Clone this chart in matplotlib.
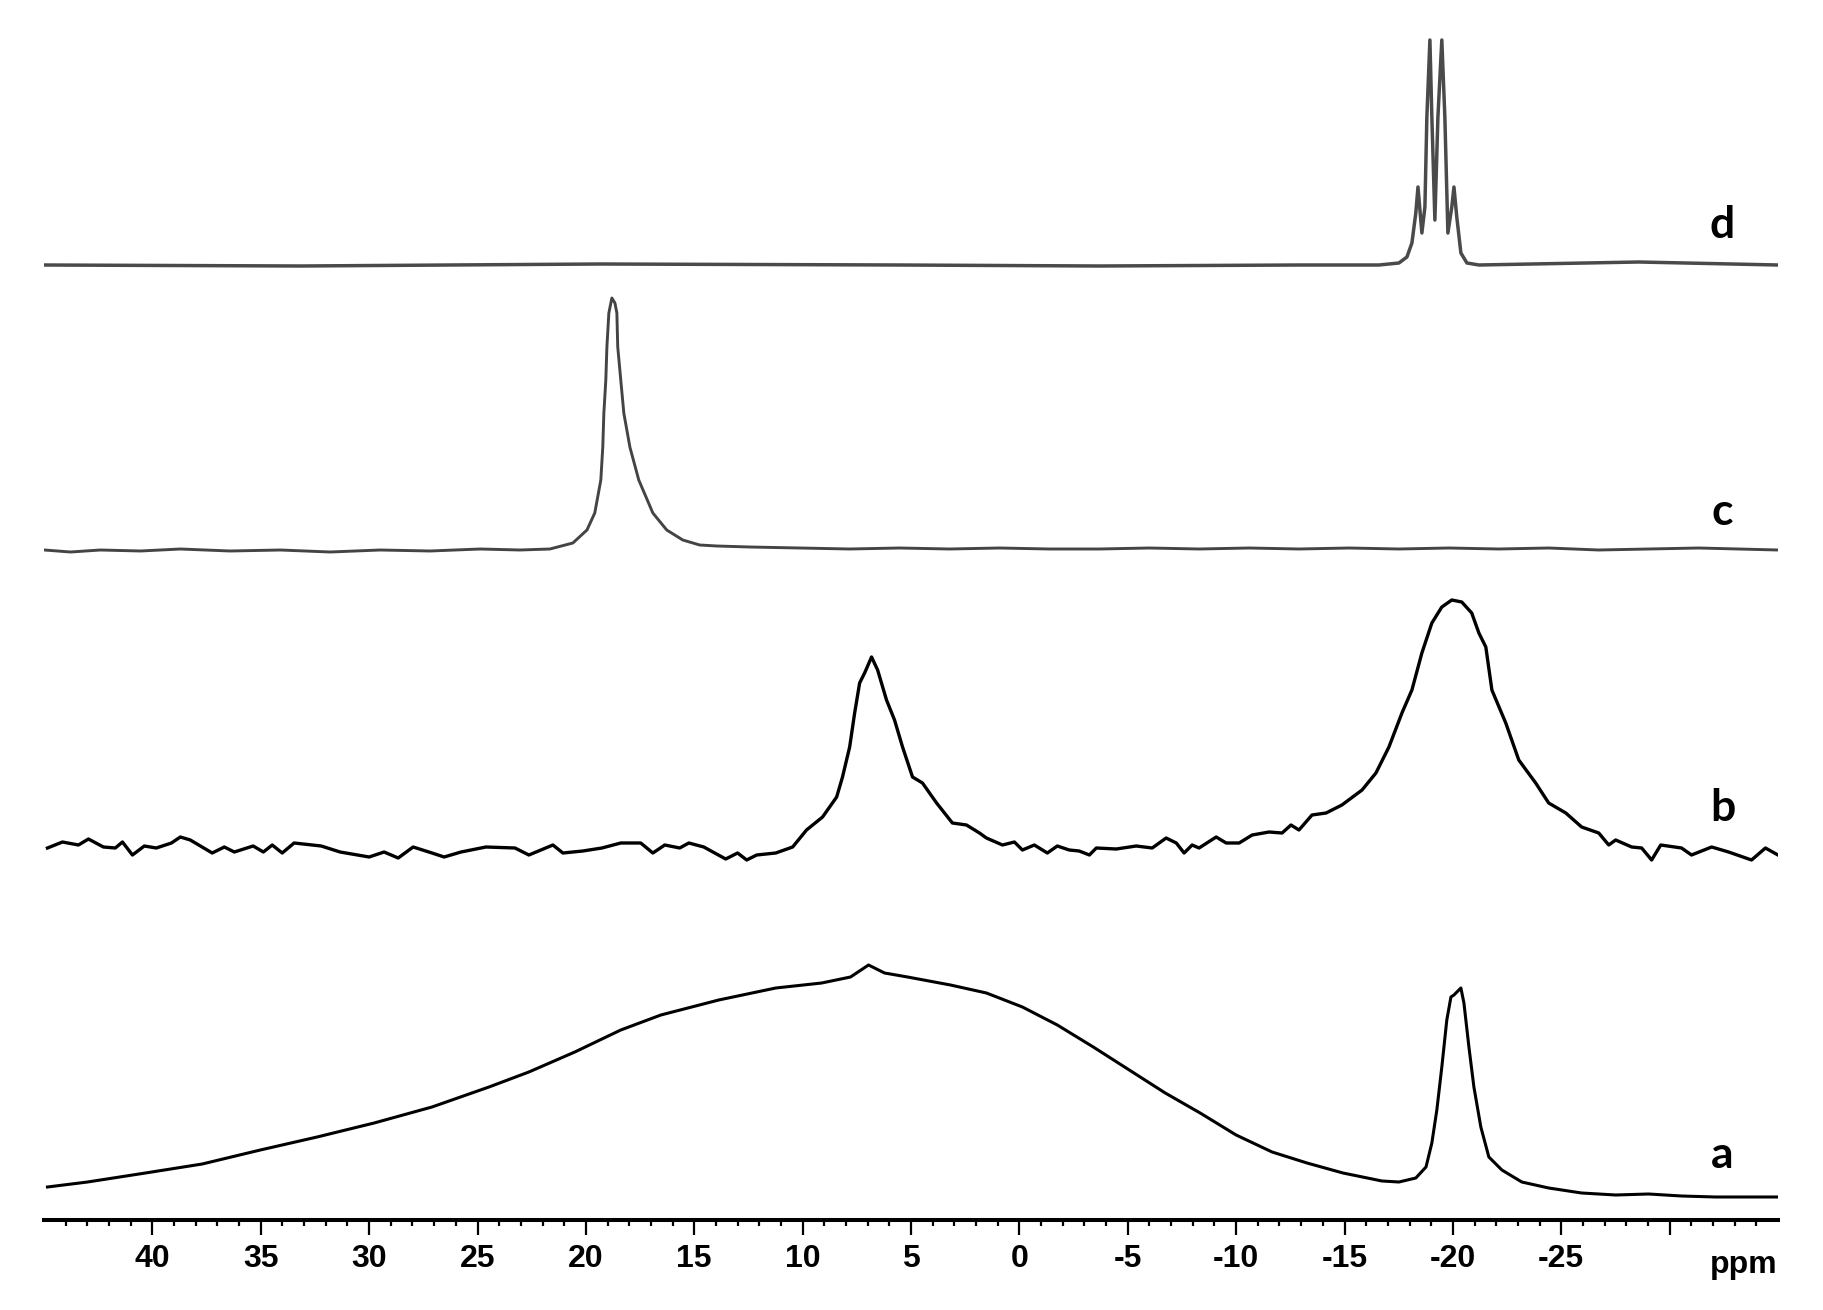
import matplotlib.pyplot as plt
import numpy as np

# ppm / intensity (intensity above each baseline)
ppm_a = [44.84, 42.99, 40.32, 37.70, 35.02, 32.40, 29.77, 27.10, 24.47, 22.63,
         20.51, 18.39, 16.54, 13.87, 11.24, 9.12, 7.79, 6.96, 6.22, 5.16,
         3.18, 1.52, -0.14, -1.75, -3.41, -5.07, -6.73, -8.34, -10.00, -11.66,
         -13.27, -14.93, -16.73, -17.51, -18.29, -18.76, -19.03, -19.26, -19.49, -19.72,
         -19.91, -20.05, -20.14, -20.28, -20.37, -20.51, -20.74, -20.97, -21.29, -21.66,
         -22.26, -23.18, -24.42, -25.94, -27.51, -29.03, -30.55, -32.12, -33.64, -35.00]
int_a = [10, 15, 24, 33, 47, 60, 74, 90, 110, 125,
         145, 167, 182, 197, 209, 214, 220, 232, 224, 220,
         212, 204, 190, 172, 150, 127, 104, 84, 62, 45,
         34, 24, 16, 15, 19, 30, 54, 87, 130, 177,
         200, 202, 204, 207, 209, 194, 150, 110, 70, 40,
         27, 15, 9, 4, 2, 3, 1, 0, 0, 0]

ppm_b = [44.84, 44.15, 43.41, 42.95, 42.26, 41.71, 41.38, 40.92, 40.37, 39.82,
         39.12, 38.71, 38.25, 37.24, 36.68, 36.22, 35.35, 34.88, 34.47, 34.01,
         33.46, 32.21, 31.34, 30.00, 29.31, 28.66, 27.97, 27.10, 26.54, 25.76,
         24.61, 23.27, 22.63, 21.52, 21.06, 20.14, 19.26, 18.39, 17.47, 16.91,
         16.36, 15.67, 15.25, 14.56, 13.55, 13.00, 12.58, 12.12, 11.24, 10.46,
         9.82, 9.08, 8.43, 8.16, 7.83, 7.60, 7.37, 7.14, 6.82, 6.54,
         6.13, 5.76, 5.39, 4.93, 4.47, 3.82, 3.09, 2.44, 1.84, 1.52,
         0.78, 0.23, -0.14, -0.69, -1.29, -1.75, -2.30, -2.76, -3.23, -3.55,
         -4.47, -5.39, -6.13, -6.77, -7.24, -7.60, -7.97, -8.29, -9.08, -9.54,
         -10.14, -10.74, -11.52, -12.12, -12.53, -12.90, -13.50, -14.15, -14.88, -15.81,
         -16.45, -17.05, -17.65, -18.11, -18.57, -19.03, -19.49, -19.95, -20.41, -20.87,
         -21.20, -21.52, -21.80, -22.44, -23.04, -23.82, -24.42, -25.21, -25.94, -26.73,
         -27.19, -27.51, -28.25, -28.71, -29.17, -29.59, -30.55, -31.01, -31.94, -32.72,
         -33.78, -34.42, -35.00]
int_b = [1, 7, 4, 10, 2, 1, 7, -6, 3, 1,
         6, 12, 9, -4, 2, -3, 3, -3, 4, -4,
         6, 3, -3, -8, -3, -9, 2, -4, -8, -3,
         2, 1, -6, 4, -4, -2, 1, 6, 6, -4,
         4, 1, 6, 2, -10, -4, -11, -6, -4, 2,
         19, 32, 52, 72, 102, 136, 166, 176, 192, 179,
         149, 129, 102, 72, 66, 46, 26, 24, 16, 11,
         4, 7, -1, 4, -4, 3, -1, -2, -6, 1,
         0, 3, 1, 11, 6, -4, 4, 1, 12, 6,
         6, 14, 17, 16, 24, 19, 34, 36, 44, 59,
         76, 102, 136, 159, 196, 226, 242, 249, 247, 236,
         216, 202, 159, 126, 89, 66, 46, 36, 22, 16,
         4, 9, 2, 1, -11, 4, 1, -6, 2, -3,
         -11, 1, -6]

ppm_c = [44.98, 43.78, 42.40, 40.55, 38.71, 36.41, 34.10, 31.80, 29.49, 27.19,
         24.88, 23.04, 21.66, 20.60, 19.95, 19.59, 19.31, 19.22, 19.17, 19.08,
         19.03, 18.94, 18.80, 18.66, 18.57, 18.53, 18.39, 18.25, 17.97, 17.56,
         16.91, 16.27, 15.53, 14.75, 13.96, 12.44, 10.14, 7.83, 5.53, 3.23,
         0.92, -1.38, -3.69, -5.99, -8.29, -10.60, -12.90, -15.21, -17.51, -19.82,
         -22.12, -24.42, -26.73, -29.03, -31.34, -33.18, -35.00]
int_c = [-1, -3, -1, -2, 0, -2, -1, -3, -1, -2,
         0, -1, 0, 6, 19, 36, 69, 102, 136, 169,
         202, 236, 251, 246, 236, 202, 169, 136, 102, 69,
         36, 19, 9, 4, 3, 2, 1, 0, 1, 0,
         1, 0, 0, 1, 0, 1, 0, 1, 0, 1,
         0, 1, -1, 0, 1, 0, -1]

ppm_d = [44.98, 33.18, 19.35, 5.53, -3.69, -12.90, -16.59, -17.51, -17.88, -18.11,
         -18.29, -18.39, -18.57, -18.71, -18.80, -18.94, -19.03, -19.17, -19.31, -19.49,
         -19.63, -19.77, -19.95, -20.05, -20.18, -20.37, -20.65, -21.20, -28.57, -35.00]
int_d = [0, -1, 1, 0, -1, 0, 0, 2, 8, 22,
         52, 78, 32, 58, 148, 225, 148, 45, 148, 225,
         148, 32, 58, 78, 48, 12, 2, 0, 3, 0]

labels = ['a', 'b', 'c', 'd']
offsets = [22, 370, 670, 954]

tick_values = [40, 35, 30, 25, 20, 15, 10, 5, 0, -5, -10, -15, -20, -25, -30]
tick_labels = ['40', '35', '30', '25', '20', '15', '10', '5', '0', '-5', '-10', '-15', '-20', '-25', '']
minor_values = [v for v in range(44, -35, -1) if v % 5 != 0]

fig = plt.figure(figsize=(18.24, 13.10), dpi=100)
ax = fig.add_axes([44 / 1824, 90 / 1310, 1734 / 1824, 1220 / 1310])

ax.plot(ppm_a, np.array(int_a) + offsets[0], color='black', lw=2.2)
ax.plot(ppm_b, np.array(int_b) + offsets[1], color='black', lw=2.4)
ax.plot(ppm_c, np.array(int_c) + offsets[2], color='#444444', lw=2.1)
ax.plot(ppm_d, np.array(int_d) + offsets[3], color='#4a4a4a', lw=2.5)

label_y = [64, 411, 707, 994]
for lab, yy in zip(labels, label_y):
    ax.text(-32.44, yy, lab, ha='center', va='center', fontsize=32,
            fontweight='bold', family='Lato')

ax.set_xlim(45, -35)
ax.set_ylim(-1, 1219)
for s in ['top', 'left', 'right']:
    ax.spines[s].set_visible(False)
ax.spines['bottom'].set_linewidth(2.9)
ax.set_yticks([])
ax.set_xticks(tick_values)
ax.set_xticklabels(tick_labels, fontsize=23, fontweight='bold', family='Liberation Sans')
ax.set_xticks(minor_values, minor=True)
ax.tick_params(axis='x', which='major', length=11, width=1.6, pad=6)
ax.tick_params(axis='x', which='minor', length=4, width=1.6)
ax.text(-35, -46, 'ppm', ha='right', va='center', fontsize=23, fontweight='bold',
        family='Liberation Sans', clip_on=False)

plt.savefig('out.png', dpi=100)
